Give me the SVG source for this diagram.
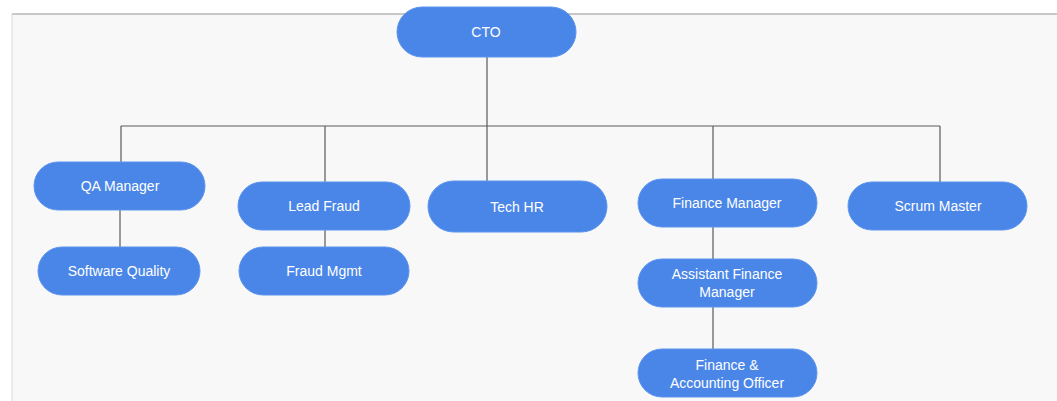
<svg xmlns="http://www.w3.org/2000/svg" width="1057" height="401" viewBox="0 0 1057 401">
<style>
.node rect{fill:#4a86e8;stroke:#5b94ee;stroke-width:1}
.node text{fill:#ffffff;font-family:"Liberation Sans",Arial,sans-serif;font-size:14px;text-anchor:middle;dominant-baseline:central}
.conn line{stroke:#5a5a5a;stroke-width:1.2}
</style>
<rect x="0" y="0" width="1057" height="401" fill="#ffffff"/>
<rect x="12" y="14" width="1045" height="387" fill="#f8f8f8"/>
<line x1="12" y1="14" x2="1057" y2="14" stroke="#c8c8c8" stroke-width="2"/>
<line x1="12" y1="14" x2="12" y2="401" stroke="#d8d8d8" stroke-width="1"/>
<g id="connectors" class="conn">
<line x1="487" y1="57" x2="487" y2="126"/>
<line x1="121" y1="126" x2="940" y2="126"/>
<line x1="121" y1="126" x2="121" y2="163"/>
<line x1="325" y1="126" x2="325" y2="182"/>
<line x1="487" y1="126" x2="487" y2="181"/>
<line x1="713" y1="126" x2="713" y2="179"/>
<line x1="940" y1="126" x2="940" y2="182"/>
<line x1="120" y1="210" x2="120" y2="247"/>
<line x1="325" y1="230" x2="325" y2="247"/>
<line x1="713" y1="227" x2="713" y2="259"/>
<line x1="713" y1="307" x2="713" y2="349"/>
</g>
<g id="cto" class="node"><rect x="397" y="7" width="179" height="50" rx="25"/><text x="486" y="32">CTO</text></g>
<g id="qa-manager" class="node"><rect x="34" y="162" width="171" height="48" rx="24"/><text x="120" y="186">QA Manager</text></g>
<g id="software-quality" class="node"><rect x="38" y="247" width="162" height="48" rx="24"/><text x="119" y="271">Software Quality</text></g>
<g id="lead-fraud" class="node"><rect x="238" y="182" width="172" height="48" rx="24"/><text x="324" y="206">Lead Fraud</text></g>
<g id="fraud-mgmt" class="node"><rect x="239" y="247" width="170" height="48" rx="24"/><text x="324" y="271">Fraud Mgmt</text></g>
<g id="tech-hr" class="node"><rect x="428" y="181" width="179" height="51" rx="25.5"/><text x="517" y="207">Tech HR</text></g>
<g id="finance-manager" class="node"><rect x="638" y="179" width="179" height="48" rx="24"/><text x="727" y="203">Finance Manager</text></g>
<g id="assistant-finance-manager" class="node"><rect x="638" y="259" width="179" height="48" rx="24"/><text x="727" y="274">Assistant Finance</text><text x="727" y="292">Manager</text></g>
<g id="finance-accounting-officer" class="node"><rect x="638" y="349" width="179" height="48" rx="24"/><text x="727" y="365">Finance &amp;</text><text x="727" y="383">Accounting Officer</text></g>
<g id="scrum-master" class="node"><rect x="848" y="182" width="179" height="48" rx="24"/><text x="938" y="206">Scrum Master</text></g>
</svg>
